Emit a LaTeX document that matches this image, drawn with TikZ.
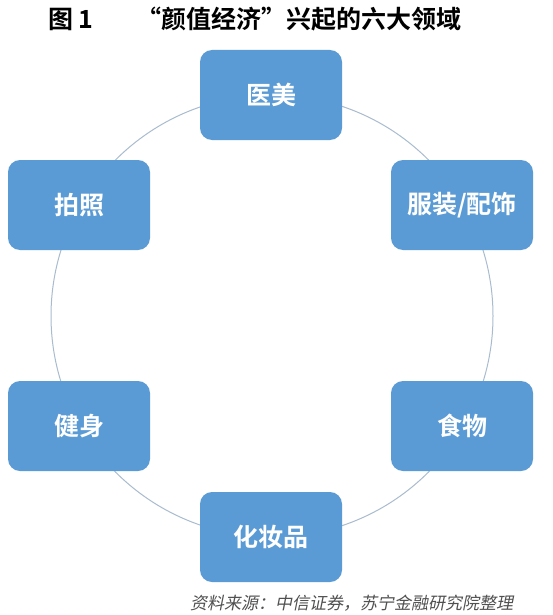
\documentclass[tikz,border=0pt]{standalone}
\usepackage{fontspec}
\newfontfamily\cjk{Noto Sans CJK SC}
\newfontfamily\cjkb{Noto Sans CJK SC Bold}
\newfontfamily\cjkit[FakeSlant=0.2]{Noto Sans CJK SC}
\definecolor{boxblue}{HTML}{5B9BD5}
\definecolor{ringcol}{HTML}{A9BCCF}
\definecolor{srcgray}{HTML}{505050}
\begin{document}
\begin{tikzpicture}[x=1pt,y=-1pt,
  areabox/.style={draw=none, fill=boxblue, rounded corners=12pt, minimum width=142pt, minimum height=90pt, inner sep=0pt, text=white, font=\cjkb\fontsize{25}{25}\selectfont},
  ringline/.style={draw=ringcol, line width=1pt}]
\useasboundingbox (0,0) rectangle (552,615);
\fill[white] (0,0) rectangle (552,615);
\coordinate (c) at (272,316);
\draw[ringline] (c) circle[radius=221pt];
\node[areabox] (yimei) at (271,95) {医美};
\node[areabox] (fuzhuang) at (462,205) {服装/配饰};
\node[areabox] (shiwu) at (462,426) {食物};
\node[areabox] (huazhuang) at (271,537) {化妆品};
\node[areabox] (jianshen) at (79,426) {健身};
\node[areabox] (paizhao) at (79,205) {拍照};
\node[anchor=west, inner sep=0pt, font=\cjkb\fontsize{25}{25}\selectfont] (fig) at (48,19) {图 1};
\node[anchor=west, inner sep=0pt, font=\cjkb\fontsize{25}{25}\selectfont] (title) at (136,19) {“颜值经济”兴起的六大领域};
\node[anchor=west, inner sep=0pt, text=srcgray, font=\cjkit\fontsize{17}{17}\selectfont] (src) at (190,603) {资料来源：中信证券，苏宁金融研究院整理};
\end{tikzpicture}
\end{document}
